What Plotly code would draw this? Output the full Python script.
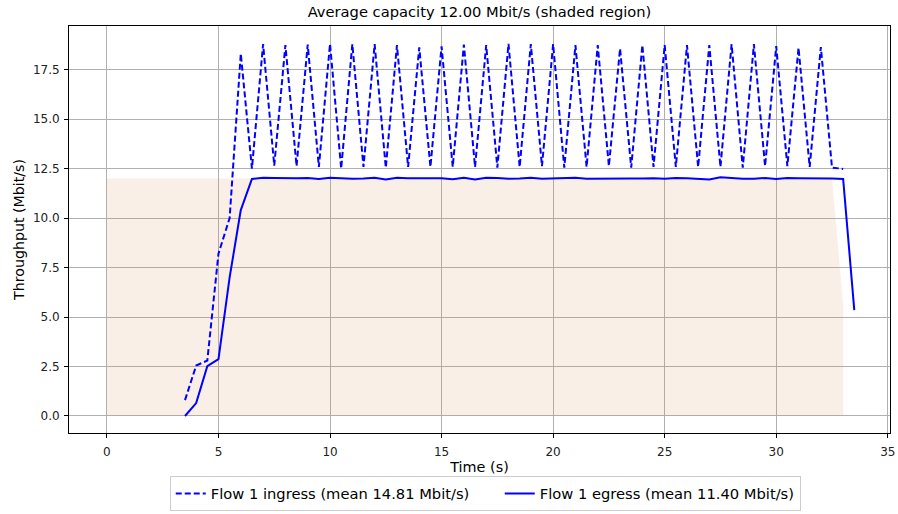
import plotly.graph_objects as go

# ---------------- data ----------------
ingress_t = [3.5, 4.0, 4.5, 5.0, 5.5, 6.0, 6.5, 7.0, 7.5, 8.0, 8.5, 9.0, 9.5, 10.0, 10.5,
             11.0, 11.5, 12.0, 12.5, 13.0, 13.5, 14.0, 14.5, 15.0, 15.5, 16.0, 16.5, 17.0,
             17.5, 18.0, 18.5, 19.0, 19.5, 20.0, 20.5, 21.0, 21.5, 22.0, 22.5, 23.0, 23.5,
             24.0, 24.5, 25.0, 25.5, 26.0, 26.5, 27.0, 27.5, 28.0, 28.5, 29.0, 29.5, 30.0,
             30.5, 31.0, 31.5, 32.0, 32.5, 33.0]
ingress_v = [0.8, 2.55, 2.8, 8.2, 10.0, 18.3, 12.5, 18.78, 12.65, 18.73, 12.62, 18.76, 12.58,
             18.8, 12.5, 18.78, 12.58, 18.78, 12.54, 18.73, 12.58, 18.62, 12.58, 18.67, 12.58,
             18.76, 12.58, 18.73, 12.55, 18.8, 12.58, 18.78, 12.62, 18.78, 12.54, 18.73, 12.58,
             18.73, 12.62, 18.56, 12.55, 18.73, 12.58, 18.73, 12.58, 18.73, 12.58, 18.73, 12.58,
             18.78, 12.54, 18.78, 12.62, 18.68, 12.62, 18.6, 12.58, 18.64, 12.55, 12.48]

egress_t = [3.5, 4.0, 4.5, 5.0, 5.5, 6.0, 6.5, 7.0, 7.5, 8.0, 8.5, 9.0, 9.5, 10.0, 10.5,
            11.0, 11.5, 12.0, 12.5, 13.0, 13.5, 14.0, 14.5, 15.0, 15.5, 16.0, 16.5, 17.0,
            17.5, 18.0, 18.5, 19.0, 19.5, 20.0, 20.5, 21.0, 21.5, 22.0, 22.5, 23.0, 23.5,
            24.0, 24.5, 25.0, 25.5, 26.0, 26.5, 27.0, 27.5, 28.0, 28.5, 29.0, 29.5, 30.0,
            30.5, 31.0, 31.5, 32.0, 32.5, 33.0, 33.5]
egress_v = [0.0, 0.65, 2.52, 2.87, 7.0, 10.4, 11.97, 12.03, 12.02, 12.0, 12.01, 12.02, 11.97,
            12.04, 12.0, 11.99, 12.0, 12.03, 11.95, 12.03, 12.01, 12.02, 12.0, 12.01, 11.96,
            12.04, 11.95, 12.03, 12.02, 11.99, 12.0, 12.03, 11.99, 12.0, 11.99, 12.03, 11.99,
            12.0, 12.0, 12.01, 12.0, 12.0, 12.01, 11.98, 12.02, 12.01, 11.99, 11.95, 12.06,
            12.01, 11.99, 11.98, 12.02, 11.97, 12.02, 12.01, 12.01, 12.01, 12.0, 11.97, 5.35]

capacity_t = [0.0, 32.5, 33.0]
capacity_v = [12.0, 12.0, 5.6]

title_text = "Average capacity 12.00 Mbit/s (shaded region)"
ingress_name = "Flow 1 ingress (mean 14.81 Mbit/s)"
egress_name = "Flow 1 egress (mean 11.40 Mbit/s)"
x_ticks = [0, 5, 10, 15, 20, 25, 30, 35]
y_ticks = [0.0, 2.5, 5.0, 7.5, 10.0, 12.5, 15.0, 17.5]

# ---------------- figure ----------------
FONT = "DejaVu Sans"
fig = go.Figure()

fig.add_trace(go.Scatter(
    x=capacity_t, y=capacity_v, mode="lines", fill="tozeroy",
    fillcolor="rgba(222,140,80,0.14)", line=dict(width=0, color="rgba(0,0,0,0)"),
    showlegend=False, hoverinfo="skip"))

fig.add_trace(go.Scatter(
    x=ingress_t, y=ingress_v, mode="lines", name=ingress_name, legendwidth=284,
    line=dict(color="#0000ff", width=2, dash="6px,3px")))

fig.add_trace(go.Scatter(
    x=egress_t, y=egress_v, mode="lines", name=egress_name,
    line=dict(color="#0000ff", width=2)))

axis_common = dict(
    showline=True, linecolor="black", linewidth=1, mirror=True,
    showgrid=True, gridcolor="#b0b0b0", gridwidth=1,
    zeroline=False, ticks="outside", ticklen=4, tickcolor="black", tickwidth=1,
    tickfont=dict(family=FONT, size=12, color="#222"), automargin=False,
)

fig.update_layout(
    width=898, height=514,
    paper_bgcolor="white", plot_bgcolor="white",
    margin=dict(l=69, r=8, t=26, b=81),
    title=dict(text=title_text, xref="paper", x=0.5, xanchor="center",
               yref="container", y=0.976, yanchor="middle",
               font=dict(family=FONT, size=14.7, color="black")),
    xaxis=dict(range=[-1.7, 35.1], tickvals=x_ticks, ticklabelstandoff=4,
               title=dict(text="Time (s)", font=dict(family=FONT, size=14.4, color="black"), standoff=3),
               **axis_common),
    yaxis=dict(range=[-0.86, 19.70], tickvals=y_ticks, tickformat=".1f", ticklabelstandoff=2,
               title=dict(text="Throughput (Mbit/s)", font=dict(family=FONT, size=14.2, color="black"), standoff=4),
               **axis_common),
    legend=dict(orientation="h", x=0.507, xanchor="center",
                yref="container", y=0.073, yanchor="top",
                bordercolor="#cccccc", borderwidth=1, bgcolor="white",
                font=dict(family=FONT, size=14.7, color="black"), itemwidth=30),
    showlegend=True,
)

# remove the browser's default 8px body margin so the figure fills the window exactly
fig.write_html("out.html", config={"displayModeBar": False},
               post_script="document.body.style.margin='0px';")
